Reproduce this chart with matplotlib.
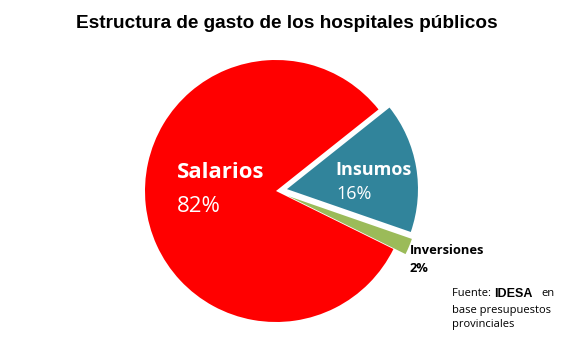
import matplotlib.pyplot as plt

# datos
categorias = ['Salarios', 'Inversiones', 'Insumos']
porcentajes = [82, 2, 16]
colores = ['#FF0000', '#9BBB59', '#31849B']
separacion = [0, 0.1, 0.085]

W, H = 573, 352
fig = plt.figure(figsize=(W / 100, H / 100), dpi=100)
fig.patch.set_facecolor('white')

# centro del pastel y radio en pixeles
cx, cy, r = 276, 191, 131
lim = 1.3
size = r * lim
ax = fig.add_axes([(cx - size) / W, (H - cy - size) / H, 2 * size / W, 2 * size / H])
ax.pie(porcentajes, colors=colores, startangle=38.5, counterclock=True,
       explode=separacion, radius=1, wedgeprops={'linewidth': 0})
ax.set_xlim(-lim, lim)
ax.set_ylim(-lim, lim)
ax.set_aspect('equal')
ax.axis('off')


def px(x, y):
    return x / W, 1 - y / H


fig.text(*px(287, 23), 'Estructura de gasto de los hospitales públicos',
         ha='center', va='center', fontsize=13.7, fontweight='bold',
         family='Liberation Sans')

fig.text(*px(177, 173), 'Salarios', ha='left', va='center', color='white',
         fontsize=16, fontweight='bold', family='Open Sans')
fig.text(*px(177, 207), '82%', ha='left', va='center', color='white',
         fontsize=16, family='Open Sans')

fig.text(*px(335, 170), 'Insumos', ha='left', va='center', color='white',
         fontsize=13, fontweight='bold', family='Open Sans')
fig.text(*px(336, 194), '16%', ha='left', va='center', color='white',
         fontsize=13, family='Open Sans')

fig.text(*px(410, 250), 'Inversiones', ha='left', va='center', color='black',
         fontsize=9.3, fontweight='bold', family='Open Sans')
fig.text(*px(410, 268), '2%', ha='left', va='center', color='black',
         fontsize=9.3, fontweight='bold', family='Open Sans')

fig.text(*px(452, 294), 'Fuente: ', ha='left', va='center', fontsize=8,
         family='Open Sans')
fig.text(*px(494, 294), 'IDESA', ha='left', va='center', fontsize=9,
         fontweight='bold', family='Liberation Sans')
fig.text(*px(541, 294), 'en', ha='left', va='center', fontsize=8,
         family='Open Sans')
fig.text(*px(452, 310), 'base presupuestos', ha='left', va='center',
         fontsize=8, family='Open Sans')
fig.text(*px(452, 325), 'provinciales', ha='left', va='center',
         fontsize=8, family='Open Sans')

fig.savefig('out.png', dpi=100)
